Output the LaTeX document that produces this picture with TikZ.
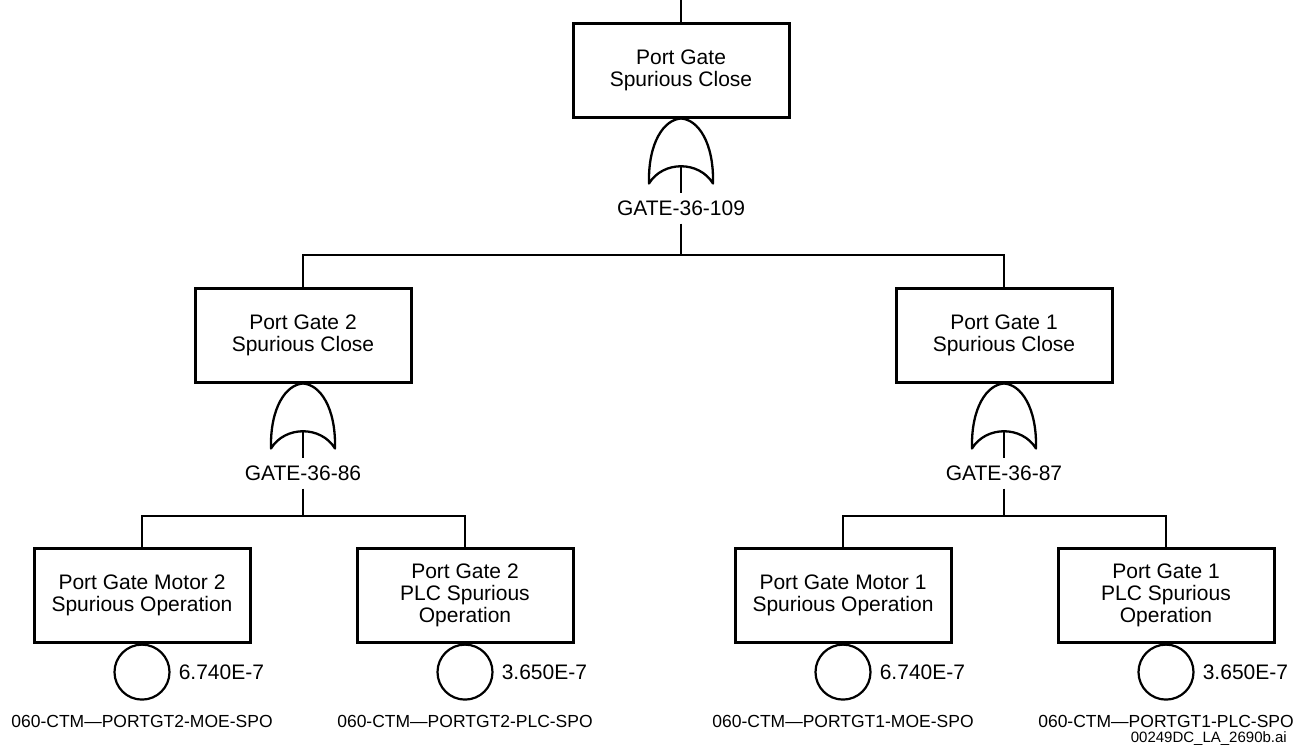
\documentclass[tikz,border=0pt]{standalone}
\usepackage{fontspec}
\setmainfont{Liberation Sans}
\usetikzlibrary{positioning}

\begin{document}
\begin{tikzpicture}[x=1pt, y=-1pt,
      suceso/.style={draw=black, line width=3pt, minimum width=216pt, minimum height=94pt, inner sep=0pt, align=center, font=\fontsize{21}{22}\selectfont},
      basico/.style={draw=black, line width=2.2pt, circle, minimum size=55pt, inner sep=0pt},
      etqPuerta/.style={font=\fontsize{21}{22}\selectfont, minimum height=30pt, inner sep=0pt},
      etqProb/.style={font=\fontsize{21}{22}\selectfont, inner sep=0pt},
      etqCodigo/.style={font=\fontsize{17.5}{18}\selectfont, inner sep=0pt},
      rama/.style={line width=2.6pt},
      puertaO/.pic={
        \draw[line width=2.3pt, line join=round] (-32,65) .. controls (-33,24) and (-17,1) .. (0,0)
          .. controls (17,1) and (33,24) .. (32,65)
          .. controls (18,42) and (-18,42) .. (-32,65) -- cycle;
        \coordinate (-in) at (0,48);
        \coordinate (-lbl) at (0,90);
      }
    ]
    \useasboundingbox (0,0) rectangle (1301,747);

    % --- evento tope ---
    \coordinate (arriba) at (681,0);
    \node[suceso] (tope) at (681,70) {Port Gate\\Spurious Close};
    \pic (p109) at (tope.south) {puertaO};
    \node[etqPuerta] (e109) at (p109-lbl) {GATE-36-109};
    \coordinate (u109) at (681,255);

    % --- (a) Port Gate 2 ---
    \begin{scope}[xshift=303pt]
      \node[suceso] (pg2) at (0,335) {Port Gate 2\\Spurious Close};
      \pic (p86) at (pg2.south) {puertaO};
      \node[etqPuerta] (e86) at (p86-lbl) {GATE-36-86};
      \coordinate (u86) at (0,516);

      \node[suceso] (m2) at (-161,595) {Port Gate Motor 2\\Spurious Operation};
      \node[basico] (b2m) at (m2.south) [anchor=north] {};
      \node[etqProb, right=8pt of b2m] {6.740E-7};
      \node[etqCodigo, below=14pt of b2m] {060-CTM—PORTGT2-MOE-SPO};

      \node[suceso] (c2) at (162,595) {Port Gate 2\\PLC Spurious\\Operation};
      \node[basico] (b2c) at (c2.south) [anchor=north] {};
      \node[etqProb, right=8pt of b2c] {3.650E-7};
      \node[etqCodigo, below=14pt of b2c] {060-CTM—PORTGT2-PLC-SPO};
    \end{scope}

    % --- (b) Port Gate 1 ---
    \begin{scope}[xshift=1004pt]
      \node[suceso] (pg1) at (0,335) {Port Gate 1\\Spurious Close};
      \pic (p87) at (pg1.south) {puertaO};
      \node[etqPuerta] (e87) at (p87-lbl) {GATE-36-87};
      \coordinate (u87) at (0,516);

      \node[suceso] (m1) at (-161,595) {Port Gate Motor 1\\Spurious Operation};
      \node[basico] (b1m) at (m1.south) [anchor=north] {};
      \node[etqProb, right=8pt of b1m] {6.740E-7};
      \node[etqCodigo, below=14pt of b1m] {060-CTM—PORTGT1-MOE-SPO};

      \node[suceso] (c1) at (162,595) {Port Gate 1\\PLC Spurious\\Operation};
      \node[basico] (b1c) at (c1.south) [anchor=north] {};
      \node[etqProb, right=8pt of b1c] {3.650E-7};
      \node[etqCodigo, below=14pt of b1c] {060-CTM—PORTGT1-PLC-SPO};
    \end{scope}

    \node[font=\fontsize{15}{16}\selectfont, inner sep=0pt, anchor=base east] (archivo) at (1287,742) {00249DC\_LA\_2690b.ai};

    % --- ramas ---
    \draw[rama] (arriba) -- (tope.north);
    \draw[rama] (p109-in) -- (e109.north);
    \draw[rama] (e109.south) -- (u109);
    \draw[rama] (pg2.north) |- (u109) -| (pg1.north);
    \draw[rama] (p86-in) -- (e86.north);
    \draw[rama] (e86.south) -- (u86);
    \draw[rama] (m2.north) |- (u86) -| (c2.north);
    \draw[rama] (p87-in) -- (e87.north);
    \draw[rama] (e87.south) -- (u87);
    \draw[rama] (m1.north) |- (u87) -| (c1.north);
  \end{tikzpicture}
\end{document}
